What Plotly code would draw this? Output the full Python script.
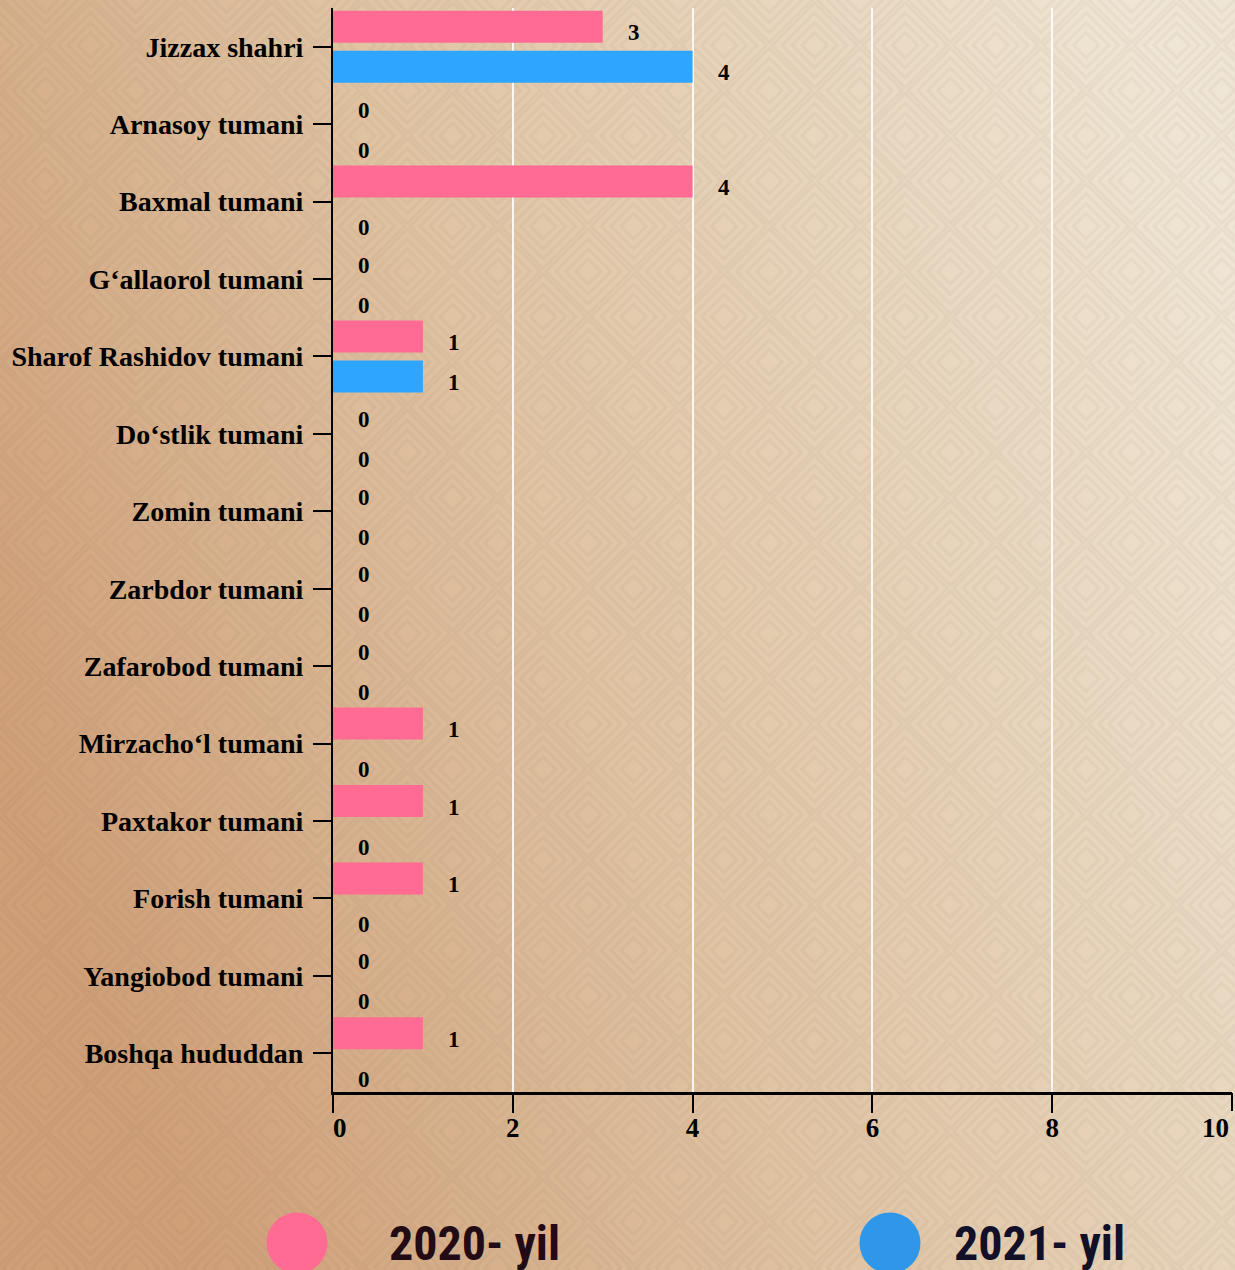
import base64
import plotly.graph_objects as go

categories = ["Jizzax shahri", "Arnasoy tumani", "Baxmal tumani", "G‘allaorol tumani",
              "Sharof Rashidov tumani", "Do‘stlik tumani", "Zomin tumani", "Zarbdor tumani",
              "Zafarobod tumani", "Mirzacho‘l tumani", "Paxtakor tumani", "Forish tumani",
              "Yangiobod tumani", "Boshqa hududdan"]
series_names = ["2020- yil", "2021- yil"]
values_2020 = [3, 0, 4, 0, 1, 0, 0, 0, 0, 1, 1, 1, 0, 1]
values_2021 = [4, 0, 0, 0, 1, 0, 0, 0, 0, 0, 0, 0, 0, 0]
x_tick_vals = [0, 2, 4, 6, 8, 10]
x_tick_text = ["\u00a0\u00a00", "2", "4", "6", "8", "10"]

W, H = 1235, 1270
ML, MR, MT, MB = 333, 3, 8, 178
PW, PH = W - ML - MR, H - MT - MB

bar_colors = ["#ff6b93", "#2ea6ff"]
legend_colors = ["#ff6b93", "#2f97e9"]
legend_text_colors = ["#220b14", "#111028"]

serif = "Liberation Serif, Times New Roman, serif"
tick_font = dict(family=serif, size=27, color="#000", weight="bold")

# background: gradient with subtle diamond texture
squares = "".join(
    f'<rect x="{d}" y="{d}" width="{64-2*d}" height="{64-2*d}" fill="none" '
    f'stroke="rgba(110,90,70,0.06)" stroke-width="3"/>' for d in (2, 9, 16, 23)
)
svg = f'''<svg xmlns="http://www.w3.org/2000/svg" width="{W}" height="{H}" viewBox="0 0 {W} {H}">
<defs>
<linearGradient id="g" x1="0" y1="0.6" x2="1" y2="0.2">
<stop offset="0" stop-color="#cf9f78"/>
<stop offset="0.45" stop-color="#e0c4a4"/>
<stop offset="1" stop-color="#f0e6d5"/>
</linearGradient>
<pattern id="p" width="64" height="64" patternUnits="userSpaceOnUse" patternTransform="rotate(45)">
{squares}
</pattern>
</defs>
<rect width="{W}" height="{H}" fill="url(#g)"/>
<rect width="{W}" height="{H}" fill="url(#p)"/>
</svg>'''
bg_uri = "data:image/svg+xml;base64," + base64.b64encode(svg.encode()).decode()

fig = go.Figure()
bar_w = 0.413
offsets = [-0.465, 0.052]
for name, vals, col, off in zip(series_names, [values_2020, values_2021], bar_colors, offsets):
    fig.add_trace(go.Bar(
        y=categories, x=vals, orientation="h", name=name,
        marker=dict(color=col, line=dict(width=0)),
        width=bar_w, offset=off, showlegend=False, hoverinfo="x+y",
    ))

annotations = []
for vals, ys in zip([values_2020, values_2021], [14, -26]):
    for cat, v in zip(categories, vals):
        annotations.append(dict(
            x=v, y=cat, xref="x", yref="y", text=str(v), showarrow=False,
            xanchor="center", yanchor="middle", xshift=31, yshift=ys,
            font=dict(family=serif, size=23, color="#000", weight="bold"),
        ))

# last x tick label kept inside the page (reference right-aligns it)
annotations.append(dict(
    x=x_tick_vals[-1], y=0, xref="x", yref="paper", text=x_tick_text[-1],
    showarrow=False, xanchor="right", yanchor="middle", xshift=-1, yshift=-36,
    font=tick_font,
))

# custom legend
leg_y = -(1243 - (MT + PH)) / PH
circle_px = [297, 890]
text_px = [387, 952]
shapes = []
for i, name in enumerate(series_names):
    cx = (circle_px[i] - ML) / PW
    shapes.append(dict(
        type="circle", xref="paper", yref="paper", xsizemode="pixel", ysizemode="pixel",
        xanchor=cx, yanchor=leg_y, x0=-30.5, x1=30.5, y0=-30.5, y1=30.5,
        fillcolor=legend_colors[i], line=dict(width=0),
    ))
    annotations.append(dict(
        x=(text_px[i] - ML) / PW, y=leg_y, xref="paper", yref="paper", text=name,
        showarrow=False, xanchor="left", yanchor="middle",
        font=dict(family="Liberation Sans Narrow, Roboto Condensed, Arial Narrow, sans-serif",
                  size=48, color=legend_text_colors[i], weight="bold"),
    ))

fig.update_layout(
    width=W, height=H,
    margin=dict(l=ML, r=MR, t=MT, b=MB, pad=0),
    paper_bgcolor="rgba(0,0,0,0)", plot_bgcolor="rgba(0,0,0,0)",
    barmode="overlay",
    showlegend=False,
    annotations=annotations,
    shapes=shapes,
    images=[dict(source=bg_uri, xref="paper", yref="paper",
                 x=-ML / PW, y=1 + MT / PH, sizex=W / PW, sizey=H / PH,
                 xanchor="left", yanchor="top", sizing="stretch", layer="below")],
    xaxis=dict(
        range=[0, 10], tickvals=x_tick_vals[:-1], ticktext=x_tick_text[:-1],
        showgrid=True, gridcolor="rgba(255,255,255,0.85)", gridwidth=1.5,
        zeroline=False, showline=True, linecolor="#000", linewidth=3,
        ticks="outside", ticklen=18, tickwidth=2, tickcolor="#000",
        ticklabelstandoff=-8,
        tickfont=tick_font,
        fixedrange=True,
    ),
    xaxis2=dict(
        overlaying="x", range=[0, 10], tickvals=[x_tick_vals[-1]], ticktext=[""],
        side="bottom", anchor="y", showgrid=True, gridcolor="rgba(255,255,255,0.85)",
        gridwidth=1.5, zeroline=False, showline=False,
        ticks="outside", ticklen=18, tickwidth=2, tickcolor="#000", fixedrange=True,
    ),
    yaxis=dict(
        categoryorder="array", categoryarray=categories,
        range=[len(categories) - 0.5, -0.5],
        showgrid=False, zeroline=False, showline=True, linecolor="#000", linewidth=2,
        ticks="outside", ticklen=18, tickwidth=2, tickcolor="#000",
        ticklabelstandoff=4,
        tickfont=dict(family=serif, size=28, color="#000", weight="bold"),
        fixedrange=True,
    ),
)
# invisible trace to activate the secondary x axis carrying the last tick
fig.add_trace(go.Scatter(x=[None], y=[None], xaxis="x2", yaxis="y",
                         mode="markers", showlegend=False, hoverinfo="skip"))

fig.write_html(
    "out.html",
    config=dict(displayModeBar=False),
    post_script="document.body.style.margin='0';document.body.style.overflow='hidden';",
)
